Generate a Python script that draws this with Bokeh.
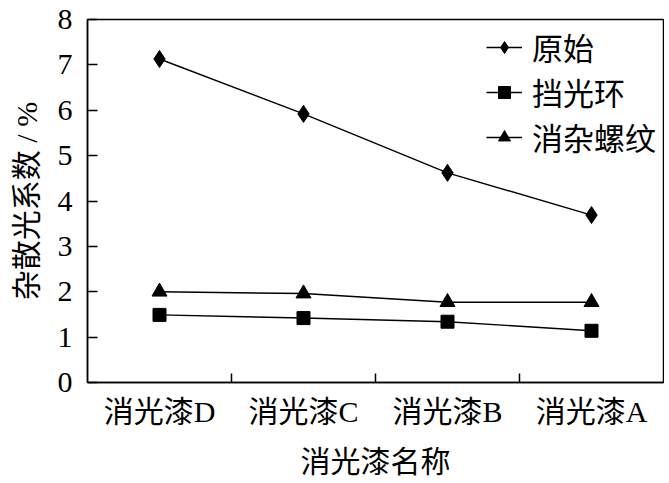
from bokeh.plotting import figure
from bokeh.models import FixedTicker, Legend, LegendItem, Range1d
from bokeh.embed import file_html
from bokeh.resources import INLINE

categories = ["消光漆D", "消光漆C", "消光漆B", "消光漆A"]
original = [7.13, 5.92, 4.62, 3.69]
baffle_ring = [1.49, 1.42, 1.34, 1.14]
thread = [2.0, 1.96, 1.77, 1.77]
series_names = ["原始", "挡光环", "消杂螺纹"]
y_ticks = [0, 1, 2, 3, 4, 5, 6, 7, 8]

FONT = "'Liberation Serif', 'Noto Sans CJK SC', serif"

xs = [i + 0.5 for i in range(len(categories))]

p = figure(width=664, height=480, output_backend="svg", toolbar_location=None,
           x_range=Range1d(0, len(categories)), y_range=Range1d(0, 8),
           min_border_left=87, min_border_top=19, min_border_bottom=97, min_border_right=1)
p.grid.visible = False
p.background_fill_color = "white"
p.outline_line_color = "black"
p.outline_line_width = 1.5

# x axis
p.xaxis.ticker = FixedTicker(ticks=xs, minor_ticks=[1, 2, 3])
p.xaxis.major_label_overrides = {x: c for x, c in zip(xs, categories)}
p.xaxis.major_tick_in = 0
p.xaxis.major_tick_out = 0
p.xaxis.minor_tick_in = 9
p.xaxis.minor_tick_out = 0
p.xaxis.minor_tick_line_width = 1.5
p.xaxis.axis_label = "消光漆名称"

# y axis
p.yaxis.ticker = FixedTicker(ticks=y_ticks)
p.yaxis.major_tick_in = 10
p.yaxis.major_tick_out = 0
p.yaxis.minor_tick_in = 0
p.yaxis.minor_tick_out = 0
p.yaxis.axis_label = "杂散光系数 / %"

for ax in (p.xaxis[0], p.yaxis[0]):
    ax.axis_line_color = "black"
    ax.axis_line_width = 1.5
    ax.major_tick_line_width = 1.5
    ax.major_label_text_font = FONT
    ax.major_label_text_font_size = "30px"
    ax.major_label_text_color = "black"
    ax.axis_label_text_font = FONT
    ax.axis_label_text_font_size = "30px"
    ax.axis_label_text_font_style = "normal"
    ax.axis_label_text_color = "black"

p.xaxis.major_label_standoff = 12
p.xaxis.axis_label_standoff = 14
p.yaxis.major_label_standoff = 15
p.yaxis.axis_label_standoff = 12

l1 = p.line(xs, original, line_color="black", line_width=1.4)
m1 = p.scatter(xs, original, marker="diamond", size=17, fill_color="black", line_color="black")
l2 = p.line(xs, baffle_ring, line_color="black", line_width=1.4)
m2 = p.scatter(xs, baffle_ring, marker="square", size=13, fill_color="black", line_color="black")
l3 = p.line(xs, thread, line_color="black", line_width=1.4)
m3 = p.scatter(xs, thread, marker="triangle", size=15, fill_color="black", line_color="black")
items = [LegendItem(label=series_names[0], renderers=[l1, m1]),
         LegendItem(label=series_names[1], renderers=[l2, m2]),
         LegendItem(label=series_names[2], renderers=[l3, m3])]

legend = Legend(items=items, location="top_right")
legend.border_line_color = None
legend.background_fill_alpha = 0
legend.label_text_font = FONT
legend.label_text_font_size = "31px"
legend.label_text_color = "black"
legend.label_height = 30
legend.label_width = 126
legend.glyph_height = 30
legend.glyph_width = 36
legend.label_standoff = 10
legend.spacing = 0
legend.padding = 4
legend.margin = 5
p.add_layout(legend)

open("out.html", "w").write(file_html(p, INLINE))
